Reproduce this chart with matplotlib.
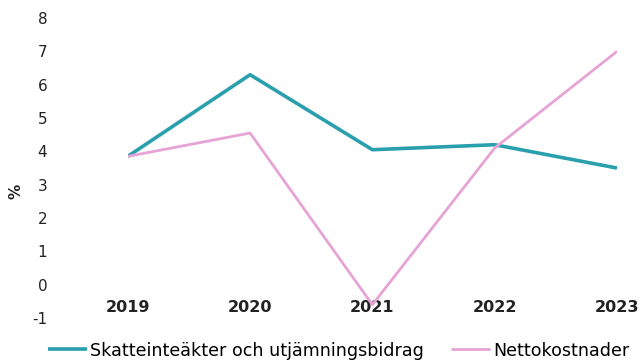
import matplotlib
matplotlib.use("Agg")
import matplotlib.pyplot as plt

years = ["2019", "2020", "2021", "2022", "2023"]
skatt = [3.85, 6.3, 4.05, 4.2, 3.5]
netto = [3.85, 4.55, -0.6, 4.1, 7.0]
series_names = ["Skatteinteäkter och utjämningsbidrag", "Nettokostnader"]
yticks = [-1, 0, 1, 2, 3, 4, 5, 6, 7, 8]

plt.rcParams['font.family'] = ['DejaVu Sans']

fig = plt.figure(figsize=(6.42, 3.61), dpi=100)
ax = fig.add_axes([0.199, 0.119, 0.762, 0.831])
x = list(range(len(years)))
ax.plot(x, skatt, color="#2a9fae", lw=2.6, label=series_names[0], solid_capstyle='butt')
ax.plot(x, netto, color="#e6a4d6", lw=2.0, label=series_names[1], solid_capstyle='butt')
ax.set_xlim(0, len(years) - 1)
ax.set_ylim(-1, 8)
ax.set_yticks(yticks)
ax.set_yticklabels([str(v) for v in yticks], fontsize=11, color="#222222")
ax.set_xticks(x)
ax.set_xticklabels(years, fontsize=11.5, fontweight='bold', color="#222222")
ax.tick_params(axis='y', length=0, pad=58)
ax.tick_params(axis='x', length=0, pad=-13)
for s in ax.spines.values():
    s.set_visible(False)
fig.text(0.025, 0.47, "%", rotation=90, fontsize=11, fontweight='bold',
         ha='center', va='center', color="#222222")
leg = fig.legend(loc='lower left', bbox_to_anchor=(0.058, -0.025), ncol=2, frameon=False,
                 fontsize=12.6, handlelength=2.25, handletextpad=0.17, columnspacing=1.55,
                 borderaxespad=0.2)
fig.savefig("out.png", dpi=100)
